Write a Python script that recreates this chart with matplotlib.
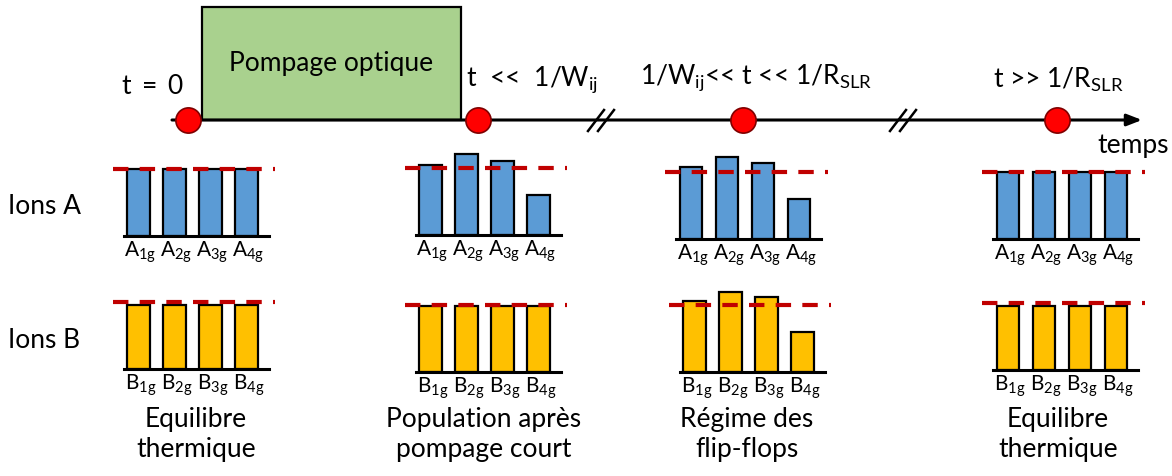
import matplotlib.pyplot as plt

plt.rcParams['font.family'] = ['Lato', 'DejaVu Sans']
plt.rcParams['mathtext.fontset'] = 'custom'
plt.rcParams['mathtext.rm'] = 'Lato'
plt.rcParams['mathtext.it'] = 'Lato:italic'

W, H = 1172, 476

# population levels, relative to thermal equilibrium (= 1)
levels = ['1g', '2g', '3g', '4g']
ions_a = [
    [1.00, 1.00, 1.00, 1.00],
    [1.04, 1.21, 1.10, 0.60],
    [1.07, 1.22, 1.13, 0.60],
    [1.00, 1.00, 1.00, 1.00],
]
ions_b = [
    [0.96, 0.96, 0.96, 0.96],
    [0.99, 0.99, 0.99, 0.99],
    [1.06, 1.19, 1.12, 0.60],
    [0.96, 0.96, 0.96, 0.96],
]
equilibrium = 1.0

captions = ['Equilibre\nthermique', 'Population après\npompage court',
            'Régime des\nflip-flops', 'Equilibre\nthermique']
time_labels = [r'$\mathregular{t\ =\ 0}$',
               r'$\mathregular{t\ \ \text{<<}\ \ 1/W_{ij}}$',
               r'$\mathregular{1/W_{ij}\text{<< t << }1/R_{SLR}}$',
               r'$\mathregular{t\text{ >> }1/R_{SLR}}$']

# layout (pixels)
circle_x = [188, 478, 743, 1057]
line_y = 120
group_x_a = [138.5, 430.5, 691, 1008]
group_x_b = [138.5, 430.5, 694.5, 1008]
base_a = [236, 235, 239, 239]
base_b = [369, 372, 372, 370]
ux, uy = 36, 67

fig = plt.figure(figsize=(W / 100, H / 100), dpi=100)
ax = fig.add_axes([0, 0, 1, 1])
ax.set_xlim(0, W)
ax.set_ylim(H, 0)
ax.axis('off')

# pumping box
ax.add_patch(plt.Rectangle((202, 7), 259, line_y - 7, facecolor='#A9D18E',
                           edgecolor='black', lw=1.6, zorder=2))
ax.text(331, 63, 'Pompage optique', ha='center', va='center', fontsize=19)

# time axis
ax.annotate('', xy=(1142, line_y), xytext=(172, line_y),
            arrowprops=dict(arrowstyle='-|>,head_length=0.9,head_width=0.35',
                            lw=2.2, color='black', shrinkA=0, shrinkB=0), zorder=3)
for bx in (588, 890):
    for dx in (0, 10):
        ax.plot([bx + dx, bx + dx + 16], [131, 110], color='black', lw=1.8, zorder=3)
ax.scatter(circle_x, [line_y] * 4, s=330, color='#FF0000', edgecolor='#7F0000',
           lw=1.2, zorder=5)
ax.text(1133, 145, 'temps', ha='center', va='center', fontsize=19)

ax.text(153, 86, time_labels[0], ha='center', va='center', fontsize=19)
ax.text(466, 80, time_labels[1], ha='left', va='center', fontsize=19)
ax.text(756, 78, time_labels[2], ha='center', va='center', fontsize=19)
ax.text(1058, 80, time_labels[3], ha='center', va='center', fontsize=19)

ax.text(8, 207, 'Ions A', ha='left', va='center', fontsize=19)
ax.text(8, 340, 'Ions B', ha='left', va='center', fontsize=19)

caption_x = [196, 484, 747, 1058]
for cx, cap in zip(caption_x, captions):
    ax.text(cx, 435, cap, ha='center', va='center', fontsize=19, linespacing=1.25)


def bar_group(cx, by, heights, color, letter):
    g = fig.add_axes([(cx - ux) / W, 1 - by / H, 5 * ux / W, 1.5 * uy / H])
    g.set_xlim(-1, 4)
    g.set_ylim(0, 1.5)
    g.axis('off')
    pos = range(len(heights))
    g.bar(pos, heights, width=0.62, color=color, edgecolor='black', lw=1.6,
          clip_on=False, zorder=2)
    g.plot([-0.41, 3.62], [0, 0], color='black', lw=2.2, clip_on=False, zorder=3)
    g.plot([-0.72, 3.8], [equilibrium, equilibrium], color='#C00000', lw=3,
           ls=(0, (3.7, 2.7)), clip_on=False, zorder=4)
    for p, lv in zip(pos, levels):
        g.text(p + 0.05, -0.05, r'$\mathregular{%s_{%s}}$' % (letter, lv), ha='center',
               va='top', fontsize=15, transform=g.transData)


for i in range(4):
    bar_group(group_x_a[i], base_a[i], ions_a[i], '#5B9BD5', 'A')
    bar_group(group_x_b[i], base_b[i], ions_b[i], '#FFC000', 'B')

fig.savefig('out.png', dpi=100)
